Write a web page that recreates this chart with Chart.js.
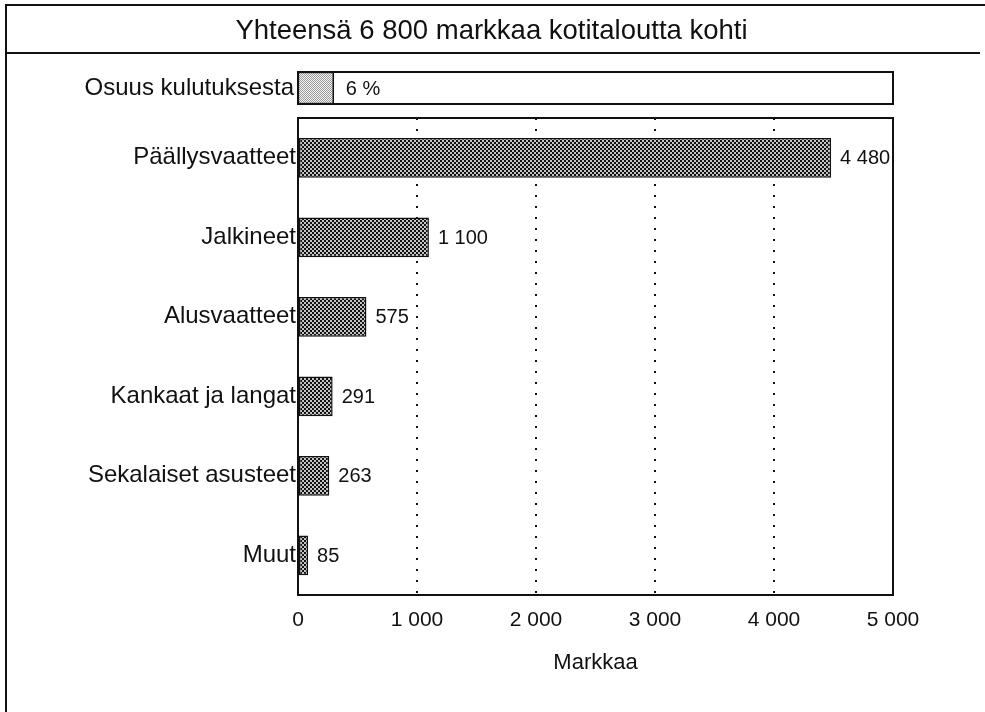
<!DOCTYPE html>
<html>
<head>
<meta charset="utf-8">
<script src="https://cdn.jsdelivr.net/npm/chart.js@4.4.1/dist/chart.umd.min.js"></script>
<style>
  html, body { margin: 0; padding: 0; background: #fff; }
  body { width: 985px; height: 712px; position: relative; overflow: hidden; }
  canvas { position: absolute; left: 0; }
  .ln { position: absolute; background: #111; }
</style>
</head>
<body>
<div class="ln" style="left:5px; top:5px; width:2px; height:707px;"></div>
<div class="ln" style="left:5px; top:4px; width:980px; height:2px;"></div>
<div class="ln" style="left:5px; top:52px; width:975px; height:2px;"></div>
<canvas id="shareChart" width="985" height="112" style="top:0px;"></canvas>
<canvas id="mainChart" width="985" height="600" style="top:112px;"></canvas>
<script>
// ---- data ----
const chartTitle = 'Yhteensä 6 800 markkaa kotitaloutta kohti';
const shareCategories = ['Osuus kulutuksesta'];
const shareValues = [6];
const categories = ['Päällysvaatteet', 'Jalkineet', 'Alusvaatteet', 'Kankaat ja langat', 'Sekalaiset asusteet', 'Muut'];
const values = [4480, 1100, 575, 291, 263, 85];
const xTickValues = [0, 1000, 2000, 3000, 4000, 5000];
const xAxisTitle = 'Markkaa';

// ---- helpers ----
const FONT = '"Liberation Sans", Arial, Helvetica, sans-serif';
const INK = '#111';
function fmt(n) { return String(n).replace(/\B(?=(\d{3})+(?!\d))/g, ' '); }
function makePattern(bg, fg, size, cells) {
  const c = document.createElement('canvas');
  c.width = size; c.height = size;
  const g = c.getContext('2d');
  g.fillStyle = bg; g.fillRect(0, 0, size, size);
  g.fillStyle = fg;
  cells.forEach(([x, y, w, h]) => g.fillRect(x, y, w, h));
  return g.createPattern(c, 'repeat');
}
const darkPattern = makePattern('#c4c4c4', '#121212', 4, [[0, 0, 2, 2], [2, 2, 2, 2]]);
const lightPattern = makePattern('#f4f4f4', '#9a9a9a', 2, [[0, 0, 1, 1], [1, 1, 1, 1]]);

const frameBox = {
  id: 'frameBox',
  afterDraw(chart) {
    const { ctx, chartArea: a } = chart;
    ctx.save();
    ctx.strokeStyle = INK;
    ctx.lineWidth = 2;
    ctx.strokeRect(a.left, a.top, a.right - a.left, a.bottom - a.top);
    ctx.restore();
  }
};
const pageTitle = {
  id: 'pageTitle',
  afterDraw(chart) {
    const { ctx } = chart;
    ctx.save();
    ctx.font = '27.5px ' + FONT;
    ctx.fillStyle = INK;
    ctx.textAlign = 'center';
    ctx.textBaseline = 'middle';
    ctx.fillText(chartTitle, chart.width / 2 - 1, 31);
    ctx.restore();
  }
};
function valueLabels(format, size, gap) {
  return {
    id: 'valueLabels',
    afterDatasetsDraw(chart) {
      const { ctx } = chart;
      const meta = chart.getDatasetMeta(0);
      const data = chart.data.datasets[0].data;
      ctx.save();
      ctx.font = size + 'px ' + FONT;
      ctx.fillStyle = INK;
      ctx.textAlign = 'left';
      ctx.textBaseline = 'middle';
      meta.data.forEach((el, i) => ctx.fillText(format(data[i]), el.x + gap, el.y + 1));
      ctx.restore();
    }
  };
}
function fixWidth(w) {
  return s => { s.width = w; s.paddingTop = 0; s.paddingBottom = 0; };
}

// ---- share chart (with page title) ----
new Chart(document.getElementById('shareChart'), {
  type: 'bar',
  data: {
    labels: shareCategories,
    datasets: [{
      data: shareValues,
      backgroundColor: lightPattern,
      borderColor: INK,
      borderWidth: 1.5,
      borderSkipped: false,
      barPercentage: 1,
      categoryPercentage: 1
    }]
  },
  options: {
    indexAxis: 'y',
    responsive: false,
    devicePixelRatio: 1,
    animation: false,
    layout: { padding: { top: 72, right: 92, bottom: 8, left: 0 } },
    plugins: { legend: { display: false }, tooltip: { enabled: false } },
    scales: {
      x: { min: 0, max: 100, display: false },
      y: {
        afterFit: fixWidth(298),
        grid: { display: false, drawTicks: false },
        border: { display: false },
        ticks: { color: INK, padding: 4, font: { family: FONT, size: 24 } }
      }
    }
  },
  plugins: [frameBox, pageTitle, valueLabels(v => v + ' %', 20, 12)]
});

// ---- main chart ----
new Chart(document.getElementById('mainChart'), {
  type: 'bar',
  data: {
    labels: categories,
    datasets: [{
      data: values,
      backgroundColor: darkPattern,
      borderColor: INK,
      borderWidth: 1.5,
      borderSkipped: false,
      barPercentage: 0.5,
      categoryPercentage: 1
    }]
  },
  options: {
    indexAxis: 'y',
    responsive: false,
    devicePixelRatio: 1,
    animation: false,
    layout: { padding: { top: 6, right: 92, bottom: 0, left: 0 } },
    plugins: { legend: { display: false }, tooltip: { enabled: false } },
    scales: {
      x: {
        min: xTickValues[0],
        max: xTickValues[xTickValues.length - 1],
        afterFit(s) { s.height = 117; },
        afterBuildTicks(s) { s.ticks = xTickValues.map(v => ({ value: v })); },
        grid: {
          drawTicks: false,
          lineWidth: 2,
          color: c => (c.tick && (c.tick.value === xTickValues[0] || c.tick.value === xTickValues[xTickValues.length - 1])) ? 'rgba(0,0,0,0)' : INK
        },
        border: { display: false, dash: [2, 9] },
        ticks: {
          color: INK,
          padding: 13,
          font: { family: FONT, size: 21 },
          callback: v => fmt(v)
        },
        title: {
          display: true,
          text: xAxisTitle,
          color: INK,
          font: { family: FONT, size: 22 },
          padding: { top: 0, bottom: 36 }
        }
      },
      y: {
        afterFit: fixWidth(298),
        grid: { display: false, drawTicks: false },
        border: { display: false },
        ticks: { color: INK, padding: 2, font: { family: FONT, size: 24 } }
      }
    }
  },
  plugins: [frameBox, valueLabels(fmt, 20, 9)]
});
</script>
</body>
</html>
